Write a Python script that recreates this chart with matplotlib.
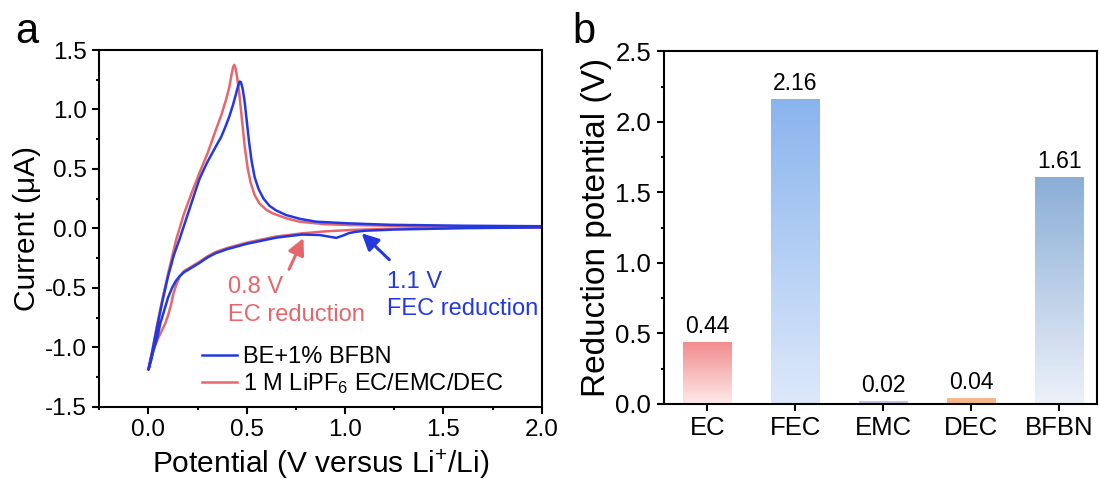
import numpy as np
import matplotlib
matplotlib.use("Agg")
import matplotlib.pyplot as plt
from matplotlib.colors import LinearSegmentedColormap
from matplotlib.ticker import MultipleLocator

plt.rcParams['font.family'] = ['Liberation Sans', 'DejaVu Sans']
plt.rcParams['mathtext.fontset'] = 'custom'
plt.rcParams['mathtext.rm'] = 'Liberation Sans'
plt.rcParams['mathtext.default'] = 'regular'
plt.rcParams['axes.unicode_minus'] = False

# ---- panel a: CV curves ----
# cathodic sweep 2.0 V -> 0 V, then anodic sweep 0 V -> 2.0 V
red_x = [2.0, 1.6, 1.25, 1.05, 0.9, 0.78, 0.65, 0.5, 0.4, 0.34, 0.3, 0.26, 0.22, 0.2, 0.18, 0.16,
         0.14, 0.125, 0.115, 0.1, 0.085, 0.065, 0.05, 0.03, 0.015, 0.0,
         0.02, 0.045, 0.07, 0.1, 0.12, 0.14, 0.16, 0.18, 0.22, 0.26, 0.30, 0.343, 0.37, 0.394,
         0.41, 0.422, 0.43, 0.436, 0.442, 0.45, 0.462, 0.475, 0.49, 0.505, 0.52, 0.54, 0.564,
         0.6, 0.632, 0.7, 0.768, 0.9, 1.02, 1.23, 1.6, 2.0]
red_y = [0.008, 0.004, -0.003, -0.012, -0.025, -0.042, -0.068, -0.12, -0.165, -0.2, -0.235, -0.28, -0.32, -0.34, -0.36, -0.4,
         -0.48, -0.56, -0.64, -0.73, -0.8, -0.87, -0.92, -1.0, -1.08, -1.18,
         -1.02, -0.8, -0.6, -0.38, -0.24, -0.1, 0.01, 0.12, 0.3, 0.47, 0.63, 0.83, 0.95, 1.08,
         1.18, 1.29, 1.355, 1.375, 1.35, 1.28, 1.13, 0.92, 0.68, 0.5, 0.38, 0.28, 0.21,
         0.155, 0.126, 0.085, 0.056, 0.035, 0.028, 0.022, 0.015, 0.012]

blue_x = [2.0, 1.6, 1.25, 1.1, 1.05, 1.02, 0.99, 0.955, 0.92, 0.87, 0.78, 0.65, 0.5, 0.4, 0.34, 0.3, 0.26,
          0.22, 0.2, 0.18, 0.16, 0.14, 0.12, 0.1, 0.08, 0.06, 0.046, 0.025, 0.012, 0.0,
          0.02, 0.045, 0.07, 0.1, 0.13, 0.156, 0.18, 0.2, 0.23, 0.258, 0.28, 0.30, 0.32, 0.343, 0.37,
          0.39, 0.411, 0.43, 0.445, 0.456, 0.464, 0.47, 0.478, 0.488, 0.5, 0.512, 0.525, 0.54,
          0.56, 0.585, 0.615, 0.65, 0.7, 0.77, 0.853, 1.02, 1.23, 1.6, 2.0]
blue_y = [0.008, 0.002, -0.01, -0.02, -0.03, -0.04, -0.06, -0.08, -0.07, -0.056, -0.052, -0.078, -0.13, -0.175, -0.21, -0.245, -0.29,
          -0.33, -0.35, -0.37, -0.40, -0.44, -0.5, -0.58, -0.69, -0.8, -0.91, -1.03, -1.12, -1.19,
          -1.03, -0.82, -0.62, -0.4, -0.22, -0.1, 0.02, 0.12, 0.27, 0.41, 0.49, 0.56, 0.62, 0.69, 0.77,
          0.85, 0.94, 1.04, 1.13, 1.2, 1.235, 1.23, 1.18, 1.08, 0.9, 0.72, 0.56, 0.43,
          0.33, 0.25, 0.19, 0.15, 0.112, 0.08, 0.056, 0.042, 0.03, 0.022, 0.018]

blue_c = '#2438e0'
red_c = '#e5676b'

# ---- panel b: bar data ----
solvents = ['EC', 'FEC', 'EMC', 'DEC', 'BFBN']
red_pot = [0.44, 2.16, 0.02, 0.04, 1.61]
top_cols = ['#f28b8c', '#8ab4ee', '#c9bfe9', '#f5b88c', '#8aaed6']
bot_cols = ['#fdeaea', '#dde9fa', '#c9bfe9', '#f5b88c', '#edf1f9']

fig = plt.figure(figsize=(11, 4.79), dpi=100)
axa = fig.add_axes([0.0903, 0.1509, 0.4022, 0.7447])
axb = fig.add_axes([0.6032, 0.1566, 0.3941, 0.7359])

txt_fs = 17

axa.plot(red_x, red_y, color=red_c, lw=1.8, label='1 M LiPF$_6$ EC/EMC/DEC')
axa.plot(blue_x, blue_y, color=blue_c, lw=1.8, label='BE+1% BFBN')
axa.set_xlim(-0.25, 2.0)
axa.set_ylim(-1.5, 1.5)
axa.xaxis.set_major_locator(MultipleLocator(0.5))
axa.xaxis.set_minor_locator(MultipleLocator(0.25))
axa.yaxis.set_major_locator(MultipleLocator(0.5))
axa.yaxis.set_minor_locator(MultipleLocator(0.25))
axa.set_xlabel('Potential (V versus Li$^{+}$/Li)', fontsize=21.5, labelpad=4)
axa.set_ylabel('Current (μA)', fontsize=21.5, labelpad=3)

h, l = axa.get_legend_handles_labels()
axa.legend(h[::-1], l[::-1], loc='center left', bbox_to_anchor=(0.2315, 0.10),
           frameon=False, fontsize=txt_fs, handlelength=1.5, handletextpad=0.25,
           borderpad=0, borderaxespad=0, labelspacing=0.1)

axa.annotate('', xy=(0.794, -0.06), xytext=(0.709, -0.365),
             arrowprops=dict(arrowstyle='-|>,head_length=0.5,head_width=0.25',
                             color=red_c, lw=2.2, mutation_scale=20))
axa.annotate('', xy=(1.074, -0.025), xytext=(1.235, -0.28),
             arrowprops=dict(arrowstyle='-|>,head_length=0.5,head_width=0.25',
                             color=blue_c, lw=2.2, mutation_scale=20))
axa.text(0.403, -0.497, '0.8 V', color=red_c, fontsize=txt_fs, va='center', ha='left')
axa.text(0.403, -0.73, 'EC reduction', color=red_c, fontsize=txt_fs, va='center', ha='left')
axa.text(1.213, -0.45, '1.1 V', color=blue_c, fontsize=txt_fs, va='center', ha='left')
axa.text(1.213, -0.68, 'FEC reduction', color=blue_c, fontsize=txt_fs, va='center', ha='left')

# ---- panel b ----
xpos = np.arange(len(solvents))
bars = axb.bar(xpos, red_pot, width=0.55, color='none', edgecolor='none')
for b, v, ct, cb in zip(bars, red_pot, top_cols, bot_cols):
    cmap = LinearSegmentedColormap.from_list('g', [cb, ct])
    grad = np.linspace(0, 1, 256).reshape(-1, 1)
    im = axb.imshow(grad, cmap=cmap, origin='lower', aspect='auto',
                    extent=(b.get_x(), b.get_x() + b.get_width(), 0, v), zorder=2)
    im.set_clip_path(b)
    axb.text(b.get_x() + b.get_width() / 2, v + 0.03, f'{v:.2f}',
             ha='center', va='bottom', fontsize=16.5)
axb.set_xlim(-0.5, 4.43)
axb.set_ylim(0, 2.5)
axb.set_xticks(xpos)
axb.set_xticklabels(solvents)
axb.yaxis.set_major_locator(MultipleLocator(0.5))
axb.yaxis.set_minor_locator(MultipleLocator(0.25))
axb.set_ylabel('Reduction potential (V)', fontsize=24, labelpad=2)

for ax, fs in ((axa, 17.5), (axb, 18.5)):
    for s in ax.spines.values():
        s.set_linewidth(1.5)
    ax.tick_params(which='major', direction='out', length=5, width=1.5,
                   labelsize=fs, pad=4)
    ax.tick_params(which='minor', direction='out', length=2.5, width=1.5)

fig.text(0.0136, 0.91, 'a', fontsize=30, ha='left', va='baseline')
fig.text(0.52, 0.91, 'b', fontsize=30, ha='left', va='baseline')

fig.savefig('out.png', dpi=100)
